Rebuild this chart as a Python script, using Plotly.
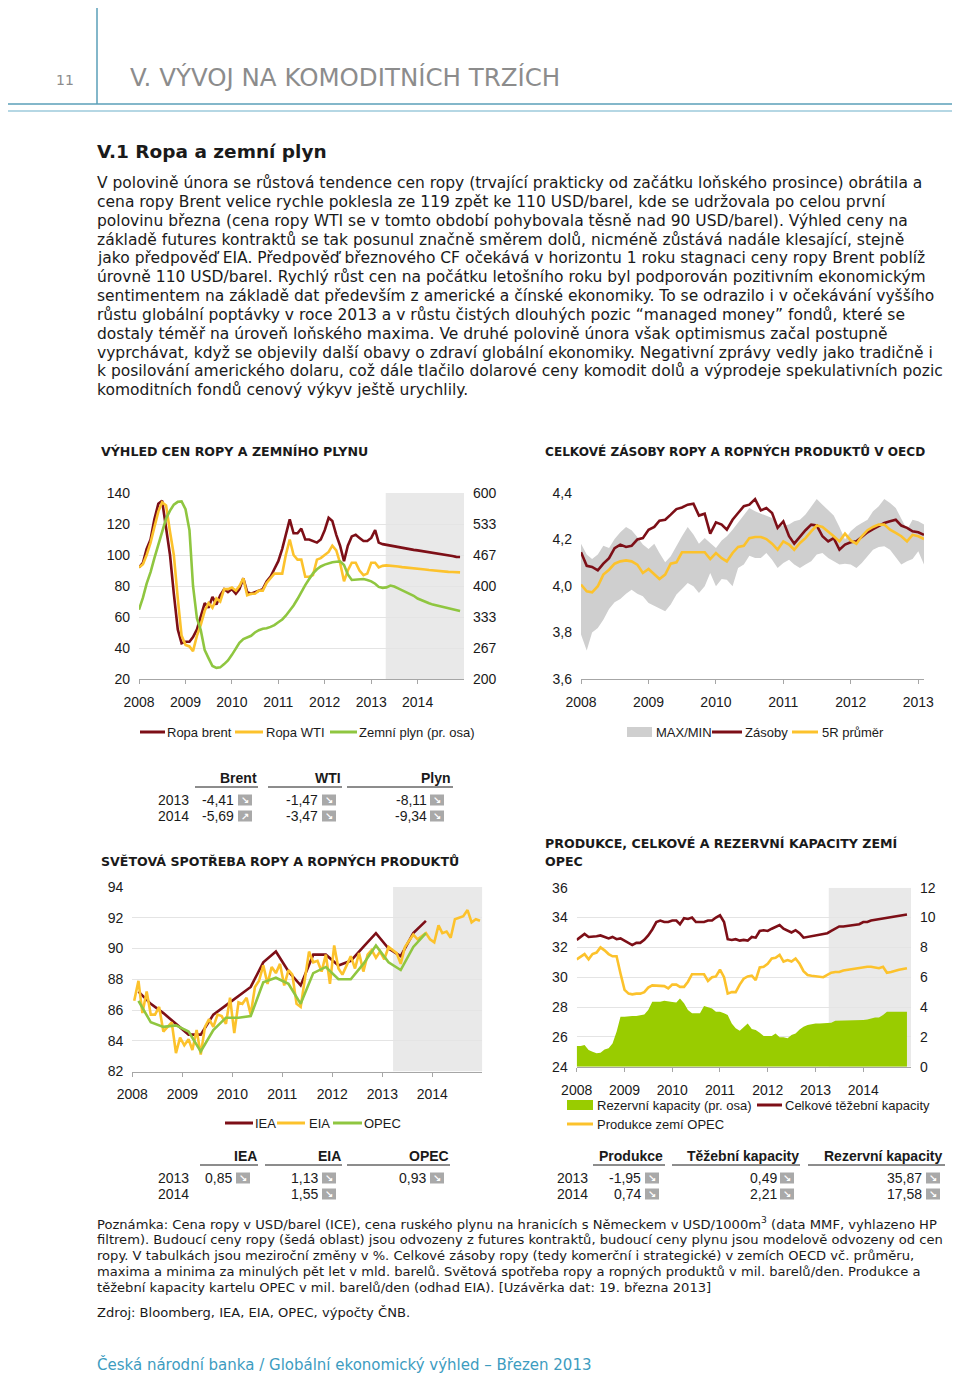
import pandas as pd
import plotly.graph_objects as go

# the page body has an 8 px margin: the figure fills the rest of the 960x1377 window
OFF = 8
W, H = 960 - OFF, 1377 - OFF
SANS = "DejaVu Sans"
ARIAL = "Liberation Sans"
RED = "#7d0f17"
YEL = "#fcc22c"
GRN = "#8fc640"
AREA = "#99cc00"
BAND = "#cfcfcf"
FGRAY = "#e9e9e9"
TEAL = "#5a9fb9"

# ---------------- data ----------------
months = pd.date_range("2008-01-01", "2014-12-01", freq="MS")
m_dates = months.strftime("%Y-%m-%d").tolist()
m_mid = (months + pd.Timedelta(days=14)).strftime("%Y-%m-%d").tolist()
q_dates = pd.date_range("2008-02-15", periods=24, freq=pd.DateOffset(months=3)).strftime("%Y-%m-%d").tolist()
oecd_dates = pd.date_range("2008-01-01", "2013-02-01", freq="MS").strftime("%Y-%m-%d").tolist()

year_labels = ["2008", "2009", "2010", "2011", "2012", "2013", "2014"]
year_labels_oecd = ["2008", "2009", "2010", "2011", "2012", "2013"]

brent = [92, 95, 104, 110, 123, 133, 135, 118, 100, 75, 52, 43,
         44, 44, 47, 52, 60, 69, 66, 73, 68, 74, 78, 76,
         78, 75, 78, 85, 76, 75, 76, 77, 78, 83, 86, 91,
         96, 104, 114, 123, 114, 114, 117, 110, 110, 109, 108, 110,
         116, 124, 122, 113, 106, 96, 106, 112, 113, 111, 109, 109,
         111, 116, 108, 107, 106.5, 106.2, 105.6, 105.2, 104.5, 104.2, 103.8, 103.3,
         103.0, 102.6, 102.2, 101.9, 101.6, 101.3, 100.9, 100.4, 99.9, 99.3, 98.8, 98.7]
wti = [92, 94, 100, 108, 118, 128, 134, 132, 115, 100, 72, 48,
       42, 41, 38, 48, 55, 64, 69, 66, 72, 70, 78, 78,
       79, 77, 80, 85, 74, 75, 75, 77, 77, 82, 85, 88,
       88, 88, 100, 110, 100, 97, 97, 86, 86, 87, 97, 98,
       100, 102, 106, 103, 95, 83, 90, 95, 95, 90, 87, 88,
       95, 95, 92, 93, 93.3, 93.2, 93.0, 92.6, 92.2, 92.0, 91.6, 91.4,
       91.0, 90.8, 90.6, 90.3, 90.0, 89.8, 89.6, 89.3, 89.1, 89.0, 88.9, 88.8]
gas = [349, 375, 405, 430, 460, 490, 520, 545, 562, 575, 581, 582,
       565, 520, 400, 330, 305, 262, 245, 228, 224, 225, 232, 240,
       252, 265, 278, 286, 290, 293, 300, 305, 308, 309, 312, 316,
       322, 328, 336, 346, 358, 372, 388, 402, 415, 427, 436, 442,
       446, 449, 451, 452, 453, 445, 425, 413, 414, 415, 415, 413,
       410, 405, 398, 396, 397, 401, 399, 395, 391, 388, 384, 379,
       373, 369, 366, 363, 360, 358, 356, 353, 351, 349, 347, 346]

stocks = [4.145, 4.087, 4.082, 4.067, 4.096, 4.12, 4.163, 4.178, 4.168, 4.173, 4.2, 4.206,
          4.242, 4.254, 4.281, 4.285, 4.307, 4.331, 4.338, 4.35, 4.354, 4.303, 4.311, 4.225,
          4.274, 4.264, 4.242, 4.285, 4.314, 4.343, 4.35, 4.374, 4.325, 4.335, 4.314, 4.25,
          4.278, 4.214, 4.182, 4.214, 4.24, 4.264, 4.26, 4.214, 4.192, 4.206, 4.156, 4.178,
          4.188, 4.192, 4.211, 4.231, 4.245, 4.26, 4.271, 4.278, 4.285, 4.26, 4.25, 4.235,
          4.231, 4.22]
avg5 = [4.006, 3.977, 3.973, 3.999, 4.049, 4.07, 4.096, 4.106, 4.11, 4.106, 4.092, 4.056,
        4.073, 4.049, 4.03, 4.049, 4.096, 4.102, 4.145, 4.145, 4.145, 4.145, 4.145, 4.116,
        4.142, 4.12, 4.106, 4.142, 4.168, 4.173, 4.206, 4.211, 4.211, 4.202, 4.182, 4.156,
        4.192, 4.178, 4.156, 4.185, 4.206, 4.235, 4.26, 4.254, 4.235, 4.214, 4.192, 4.225,
        4.196, 4.182, 4.214, 4.24, 4.254, 4.264, 4.264, 4.242, 4.228, 4.214, 4.192, 4.22,
        4.214, 4.202]
band_max = [4.182, 4.135, 4.116, 4.135, 4.173, 4.163, 4.202, 4.231, 4.254, 4.24, 4.211, 4.178,
            4.159, 4.182, 4.142, 4.102, 4.128, 4.173, 4.214, 4.254, 4.221, 4.182, 4.206, 4.185,
            4.163, 4.196, 4.214, 4.242, 4.271, 4.303, 4.335, 4.321, 4.311, 4.303, 4.292, 4.257,
            4.26, 4.264, 4.278, 4.285, 4.307, 4.343, 4.374, 4.35, 4.328, 4.303, 4.254, 4.2,
            4.235, 4.257, 4.271, 4.285, 4.321, 4.343, 4.374, 4.357, 4.335, 4.292, 4.242, 4.285,
            4.278, 4.264]
band_min = [3.791, 3.723, 3.8, 3.819, 3.855, 3.901, 3.93, 3.944, 3.967, 3.984, 3.967, 3.956,
            3.927, 3.915, 3.905, 3.891, 3.92, 3.963, 3.987, 4.013, 3.999, 3.97, 3.999, 4.056,
            3.999, 4.03, 4.027, 3.999, 4.077, 4.092, 4.13, 4.12, 4.12, 4.142, 4.113, 4.077,
            4.099, 4.113, 4.092, 4.077, 4.092, 4.106, 4.135, 4.142, 4.12, 4.106, 4.092, 4.096,
            4.092, 4.077, 4.099, 4.128, 4.156, 4.168, 4.171, 4.156, 4.125, 4.092, 4.106, 4.116,
            4.149, 4.092]

iea = [87.2, 86.4, 85.8, 85.1, 84.4, 84.4, 85.7, 86.3, 86.9, 87.5, 89.1, 89.8,
       88.5, 87.6, 89.6, 89.6, 88.9, 89.2, 90.1, 91.0, 90.0, 89.5, 91.0, 91.8]
opec = [86.6, 85.2, 84.9, 85.0, 84.6, 83.3, 84.7, 85.5, 85.5, 85.6, 87.8, 88.1,
        87.7, 86.4, 88.4, 88.8, 88.0, 88.0, 89.0, 90.2, 89.1, 88.6, 90.1, 91.0]
eia = [86.6, 87.9, 85.8, 87.2, 85.7, 85.7, 86.2, 84.6, 84.9, 85.2, 83.2, 84.2,
       83.7, 84.1, 83.4, 84.7, 83.1, 84.9, 85.4, 84.9, 85.7, 85.6, 85.1, 86.8,
       84.5, 86.5, 86.4, 86.8, 85.7, 87.5, 87.9, 88.9, 87.7, 88.8, 88.4, 89.0,
       87.6, 88.6, 88.3, 86.4, 86.2, 87.9, 89.8, 89.1, 89.2, 88.5, 89.6, 87.7,
       90.2, 88.7, 88.3, 88.9, 89.5, 88.7, 89.7, 88.5, 89.6, 89.9, 89.4, 89.8,
       89.3, 90.1, 89.9, 89.7, 89.0, 90.1, 90.5, 90.9, 90.6, 90.8, 91.0, 90.6,
       90.4, 91.5, 91.0, 91.1, 90.7, 91.9, 92.0, 92.1, 92.5, 91.7, 91.9, 91.8]

capacity = [32.5, 32.7, 32.9, 32.7, 32.7, 32.75, 32.8, 32.7, 32.6, 32.7, 32.55, 32.6,
            32.45, 32.3, 32.15, 32.3, 32.3, 32.5, 32.8, 33.2, 33.7, 33.8, 33.7, 33.7,
            33.8, 33.8, 33.55, 33.95, 33.9, 34.0, 33.7, 33.7, 33.7, 33.8, 33.8, 34.0,
            34.15, 33.7, 32.55, 32.5, 32.55, 32.45, 32.5, 32.45, 32.7, 32.65, 33.1, 33.15,
            33.1, 33.25, 33.35, 33.5, 33.25, 33.1, 33.0, 33.15, 32.95, 32.65, 32.7, 32.75,
            32.8, 32.85, 32.9, 32.95, 33.1, 33.25, 33.4, 33.4, 33.45, 33.5, 33.55, 33.55,
            33.7, 33.7, 33.8, 33.85, 33.9, 33.95, 34.0, 34.0, 34.1, 34.1, 34.2, 34.2]
production = [31.2, 31.4, 31.55, 31.2, 31.55, 31.65, 32.0, 31.8, 31.55, 31.4, 31.4, 30.25,
              29.15, 28.9, 28.85, 28.9, 28.9, 29.0, 29.3, 29.45, 29.45, 29.45, 29.4, 29.25,
              29.5, 29.5, 29.35, 29.35, 29.7, 30.2, 30.2, 30.2, 30.2, 29.75, 30.0, 30.05,
              30.5, 30.0, 28.9, 29.0, 29.0, 29.5, 29.9, 30.05, 30.1, 29.8, 30.65, 30.7,
              30.9, 31.25, 31.3, 31.5, 31.05, 31.15, 31.05, 31.25, 30.9, 30.4, 30.15, 30.1,
              30.05, 30.05, 30.0, 30.15, 30.3, 30.35, 30.35, 30.45, 30.5, 30.55, 30.55, 30.6,
              30.65, 30.7, 30.7, 30.65, 30.6, 30.7, 30.3, 30.35, 30.45, 30.5, 30.55, 30.6]
spare = [1.39, 1.39, 1.45, 1.12, 1.0, 0.9, 0.94, 1.16, 1.23, 1.56, 2.35, 3.35,
         3.35, 3.4, 3.4, 3.4, 3.46, 3.5, 3.8, 4.35, 4.35, 4.35, 4.42, 4.4,
         4.33, 4.3, 4.58, 4.25, 3.8, 3.58, 3.58, 3.58, 4.07, 3.98, 3.9, 3.68,
         3.68, 3.58, 3.46, 2.9, 2.57, 2.41, 2.68, 2.9, 2.53, 2.46, 2.28, 2.06,
         2.06, 2.06, 2.23, 1.97, 1.97, 1.9, 2.12, 2.23, 2.5, 2.68, 2.79, 2.86,
         2.9, 2.9, 2.9, 2.9, 2.95, 3.08, 3.08, 3.08, 3.08, 3.08, 3.13, 3.13,
         3.13, 3.17, 3.24, 3.3, 3.3, 3.46, 3.68, 3.68, 3.68, 3.68, 3.68, 3.68]

# tables
t1_cols = ["Brent", "WTI", "Plyn"]
t_years = ["2013", "2014"]
t1_vals = [["-4,41", "-1,47", "-8,11"], ["-5,69", "-3,47", "-9,34"]]
t1_arrows = [["↘", "↘", "↘"], ["↗", "↘", "↘"]]
t3_cols = ["IEA", "EIA", "OPEC"]
t3_vals = [["0,85", "1,13", "0,93"], ["", "1,55", ""]]
t4_cols = ["Produkce", "Těžební kapacity", "Rezervní kapacity"]
t4_vals = [["-1,95", "0,49", "35,87"], ["0,74", "2,21", "17,58"]]

body_lines = [
    "V polovině února se růstová tendence cen ropy (trvající prakticky od začátku loňského prosince) obrátila a",
    "cena ropy Brent velice rychle poklesla ze 119 zpět ke 110 USD/barel, kde se udržovala po celou první",
    "polovinu března (cena ropy WTI se v tomto období pohybovala těsně nad 90 USD/barel). Výhled ceny na",
    "základě futures kontraktů se tak posunul značně směrem dolů, nicméně zůstává nadále klesající, stejně",
    "jako předpověď EIA. Předpověď březnového CF očekává v horizontu 1 roku stagnaci ceny ropy Brent poblíž",
    "úrovně 110 USD/barel. Rychlý růst cen na počátku letošního roku byl podporován pozitivním ekonomickým",
    "sentimentem na základě dat především z americké a čínské ekonomiky. To se odrazilo i v očekávání vyššího",
    "růstu globální poptávky v roce 2013 a v růstu čistých dlouhých pozic “managed money” fondů, které se",
    "dostaly téměř na úroveň loňského maxima. Ve druhé polovině února však optimismus začal postupně",
    "vyprchávat, když se objevily další obavy o zdraví globální ekonomiky. Negativní zprávy vedly jako tradičně i",
    "k posilování amerického dolaru, což dále tlačilo dolarové ceny komodit dolů a výprodeje spekulativních pozic",
    "komoditních fondů cenový výkyv ještě urychlily.",
]
note_lines = [
    "Poznámka: Cena ropy v USD/barel (ICE), cena ruského plynu na hranicích s Německem v USD/1000m<sup>3</sup> (data MMF, vyhlazeno HP",
    "filtrem). Budoucí ceny ropy (šedá oblast) jsou odvozeny z futures kontraktů, budoucí ceny plynu jsou modelově odvozeny od cen",
    "ropy. V tabulkách jsou meziroční změny v %. Celkové zásoby ropy (tedy komerční i strategické) v zemích OECD vč. průměru,",
    "maxima a minima za minulých pět let v mld. barelů. Světová spotřeba ropy a ropných produktů v mil. barelů/den. Produkce a",
    "těžební kapacity kartelu OPEC v mil. barelů/den (odhad EIA). [Uzávěrka dat: 19. března 2013]",
]

# ---------------- helpers (page pixel -> paper) ----------------
ann, shapes = [], []


def X(px):
    return (px - OFF) / W


def Y(py):
    return 1 - (py - OFF) / H


def T(x, y, s, size=13, color="#1a1a1a", family=ARIAL, xanchor="left", bold=False):
    if bold:
        s = "<b>" + s + "</b>"
    ann.append(dict(x=X(x), y=Y(y), xref="paper", yref="paper", text=s, showarrow=False,
                    xanchor=xanchor, yanchor="middle", borderpad=0,
                    font=dict(size=size, color=color, family=family)))


def L(x0, y0, x1, y1, color, width=1):
    shapes.append(dict(type="line", xref="paper", yref="paper", x0=X(x0), y0=Y(y0), x1=X(x1), y1=Y(y1),
                       line=dict(color=color, width=width)))


def R(x0, y0, x1, y1, fill):
    shapes.append(dict(type="rect", xref="paper", yref="paper", x0=X(x0), y0=Y(y0), x1=X(x1), y1=Y(y1),
                       fillcolor=fill, line=dict(width=0)))


def icon(x, y, arrow):
    R(x, y - 5.5, x + 14, y + 5.5, "#a9a9a9")
    ann.append(dict(x=X(x + 7), y=Y(y), xref="paper", yref="paper", text="<b>" + arrow + "</b>", showarrow=False,
                    xanchor="center", yanchor="middle", borderpad=0,
                    font=dict(size=10, color="white", family=SANS)))


# ---------------- figure ----------------
fig = go.Figure()
ln = dict(width=2.6)

# chart 1
fig.add_trace(go.Scatter(x=m_dates, y=brent, mode="lines", line=dict(color=RED, **ln), xaxis="x", yaxis="y"))
fig.add_trace(go.Scatter(x=m_dates, y=wti, mode="lines", line=dict(color=YEL, **ln), xaxis="x", yaxis="y"))
fig.add_trace(go.Scatter(x=m_dates, y=gas, mode="lines", line=dict(color=GRN, **ln), xaxis="x", yaxis="y2"))
# chart 2
fig.add_trace(go.Scatter(x=oecd_dates, y=band_max, mode="lines", line=dict(width=0, color=BAND), xaxis="x2", yaxis="y3"))
fig.add_trace(go.Scatter(x=oecd_dates, y=band_min, mode="lines", line=dict(width=0, color=BAND), fill="tonexty",
                         fillcolor=BAND, xaxis="x2", yaxis="y3"))
fig.add_trace(go.Scatter(x=oecd_dates, y=stocks, mode="lines", line=dict(color=RED, **ln), xaxis="x2", yaxis="y3"))
fig.add_trace(go.Scatter(x=oecd_dates, y=avg5, mode="lines", line=dict(color=YEL, **ln), xaxis="x2", yaxis="y3"))
# chart 3
fig.add_trace(go.Scatter(x=q_dates, y=iea, mode="lines", line=dict(color=RED, **ln), xaxis="x3", yaxis="y4"))
fig.add_trace(go.Scatter(x=m_mid, y=eia, mode="lines", line=dict(color=YEL, **ln), xaxis="x3", yaxis="y4"))
fig.add_trace(go.Scatter(x=q_dates, y=opec, mode="lines", line=dict(color=GRN, **ln), xaxis="x3", yaxis="y4"))
# chart 4
fig.add_trace(go.Scatter(x=m_dates, y=spare, mode="lines", line=dict(width=0, color=AREA), fill="tozeroy",
                         fillcolor=AREA, xaxis="x4", yaxis="y6"))
fig.add_trace(go.Scatter(x=m_dates, y=capacity, mode="lines", line=dict(color=RED, **ln), xaxis="x4", yaxis="y5"))
fig.add_trace(go.Scatter(x=m_dates, y=production, mode="lines", line=dict(color=YEL, **ln), xaxis="x4", yaxis="y5"))

TF = dict(size=14, color="#1a1a1a", family=ARIAL)


def xaxis(d0, d1, rng, labels, anchor):
    return dict(domain=[X(d0), X(d1)], range=rng, type="date", anchor=anchor,
                tickvals=[f"{l}-01-01" for l in labels], ticktext=labels,
                showgrid=False, zeroline=False, showline=True, linecolor="#a6a6a6", linewidth=1,
                ticks="outside", ticklen=4, tickcolor="#a6a6a6", tickfont=TF, ticklabelstandoff=6,
                automargin=False, fixedrange=True)


def yaxis(top, bot, rng, vals, texts, anchor, side="left", grid=True, overlay=None):
    d = dict(domain=[Y(bot), Y(top)], range=rng, tickvals=vals, ticktext=texts, anchor=anchor, side=side,
             showgrid=grid, gridcolor="#e4e4e4", gridwidth=1, zeroline=False, showline=False,
             ticks="", tickfont=TF, ticklabelstandoff=8, automargin=False, fixedrange=True)
    if overlay:
        d["overlaying"] = overlay
        d["showgrid"] = False
    return d


c1_left = [20, 40, 60, 80, 100, 120, 140]
c1_right = [200, 266.67, 333.33, 400, 466.67, 533.33, 600]
c1_right_t = ["200", "267", "333", "400", "467", "533", "600"]
c2_vals = [3.6, 3.8, 4.0, 4.2, 4.4]
c2_text = ["3,6", "3,8", "4,0", "4,2", "4,4"]
c3_vals = [82, 84, 86, 88, 90, 92, 94]
c4_left = [24, 26, 28, 30, 32, 34, 36]
c4_right = [0, 2, 4, 6, 8, 10, 12]

layout = dict(
    width=W, height=H, margin=dict(l=0, r=0, t=0, b=0, pad=0, autoexpand=False), showlegend=False,
    paper_bgcolor="white", plot_bgcolor="rgba(0,0,0,0)",
    xaxis=xaxis(139, 464, ["2008-01-01", "2015-01-01"], year_labels, "y"),
    yaxis=yaxis(493, 679, [20, 140], c1_left, [str(v) for v in c1_left], "x"),
    yaxis2=yaxis(493, 679, [200, 600], c1_right, c1_right_t, "x", side="right", overlay="y"),
    xaxis2=xaxis(581, 924, ["2008-01-01", "2013-02-01"], year_labels_oecd, "y3"),
    yaxis3=yaxis(493, 679, [3.6, 4.4], c2_vals, c2_text, "x2", grid=False),
    xaxis3=xaxis(132.3, 482.3, ["2008-01-01", "2015-01-01"], year_labels, "y4"),
    yaxis4=yaxis(887, 1071.5, [82, 94], c3_vals, [str(v) for v in c3_vals], "x3"),
    xaxis4=xaxis(576.7, 911, ["2008-01-01", "2015-01-01"], year_labels, "y5"),
    yaxis5=yaxis(887.7, 1066.7, [24, 36], c4_left, [str(v) for v in c4_left], "x4"),
    yaxis6=yaxis(887.7, 1066.7, [0, 12], c4_right, [str(v) for v in c4_right], "x4", side="right", overlay="y5"),
)

# forecast shading
for xr, yr, x0, y0, y1 in [("x", "y", "2013-04-25", 20, 140), ("x3", "y4", "2013-03-20", 82, 94),
                            ("x4", "y5", "2013-04-12", 24, 36)]:
    shapes.append(dict(type="rect", xref=xr, yref=yr, x0=x0, x1="2015-01-01", y0=y0, y1=y1,
                       fillcolor=FGRAY, line=dict(width=0), layer="below"))

# ---------------- page header ----------------
L(97, 3, 97, 104, TEAL, 1.5)
L(0, 104, 955, 104, TEAL, 1.5)
L(0, 111, 955, 111, "#9dcadb", 1.5)
T(65, 80, "11", size=14, color="#8c8c8c", family=SANS, xanchor="center")
T(129, 78, "V. VÝVOJ NA KOMODITNÍCH TRZÍCH", size=24.5, color="#8c8c8c", family=SANS)

T(96, 151, "V.1 Ropa a zemní plyn", size=18.5, color="#1a1a1a", family=SANS, bold=True)
for i, s in enumerate(body_lines):
    T(96, 183 + i * 18.85, s, size=15.5, color="#1a1a1a", family=SANS)

# chart titles
TT = 12.6
T(100, 451, "VÝHLED CEN ROPY A ZEMNÍHO PLYNU", size=TT, family=SANS, bold=True)
T(544, 451, "CELKOVÉ ZÁSOBY ROPY A ROPNÝCH PRODUKTŮ V OECD", size=12.1, family=SANS, bold=True)
T(100, 861, "SVĚTOVÁ SPOTŘEBA ROPY A ROPNÝCH PRODUKTŮ", size=TT, family=SANS, bold=True)
T(544, 843, "PRODUKCE, CELKOVÉ A REZERVNÍ KAPACITY ZEMÍ", size=TT, family=SANS, bold=True)
T(544, 861, "OPEC", size=TT, family=SANS, bold=True)

# legends
LG = 13
L(140, 732, 165, 732, RED, 3); T(166, 732, "Ropa brent", LG)
L(235, 732, 263, 732, YEL, 3); T(265, 732, "Ropa WTI", LG)
L(330, 732, 357, 732, GRN, 3); T(358, 732, "Zemní plyn (pr. osa)", LG)

R(627, 727, 652, 737, BAND); T(655, 732, "MAX/MIN", LG)
L(712, 732, 742, 732, RED, 3); T(744, 732, "Zásoby", LG)
L(792, 732, 818, 732, YEL, 3); T(821, 732, "5R průměr", LG)

L(225, 1123, 253, 1123, RED, 3); T(254, 1123, "IEA", LG)
L(277, 1123, 305, 1123, YEL, 3); T(308, 1123, "EIA", LG)
L(333, 1123, 362, 1123, GRN, 3); T(363, 1123, "OPEC", LG)

R(567, 1100, 593, 1110, AREA); T(596, 1105, "Rezervní kapacity (pr. osa)", LG)
L(757, 1105, 782, 1105, RED, 3); T(784, 1105, "Celkové těžební kapacity", LG)
L(567, 1124, 593, 1124, YEL, 3); T(596, 1124, "Produkce zemí OPEC", LG)

# ---------------- tables ----------------
TS = 14


def table(cols, vals, arrows, year_x, head_y, head_right, under, val_right, icon_x, row_y):
    for c, s in enumerate(cols):
        T(head_right[c], head_y, s, TS, xanchor="right", bold=True)
        L(under[c][0], head_y + 9, under[c][1], head_y + 9, "#1a1a1a", 1)
    for r, yr in enumerate(t_years):
        T(year_x, row_y[r], yr, TS)
        for c in range(len(cols)):
            v = vals[r][c]
            if v:
                T(val_right[c], row_y[r], v, TS, xanchor="right")
                icon(icon_x[c], row_y[r], arrows[r][c])


table(t1_cols, t1_vals, t1_arrows, 157, 778, [258, 342, 452], [(195, 258), (268, 342), (347, 453)],
      [235, 319, 428], [238, 322, 430], [800, 816])
down = [["↘"] * 3, ["↘"] * 3]
table(t3_cols, t3_vals, down, 157, 1156, [258, 342, 450], [(200, 258), (265, 342), (347, 450)],
      [233, 319, 427], [236, 322, 430], [1178, 1194])
table(t4_cols, t4_vals, down, 556, 1156, [664, 800, 943], [(593, 665), (672, 800), (808, 945)],
      [642, 778, 923], [645, 780, 926], [1178, 1194])

# ---------------- notes ----------------
for i, s in enumerate(note_lines):
    T(96, 1223 + i * 16, s, size=13.1, color="#1a1a1a", family=SANS)
T(96, 1312, "Zdroj: Bloomberg, IEA, EIA, OPEC, výpočty ČNB.", size=13.1, color="#1a1a1a", family=SANS)
T(96, 1364, "Česká národní banka / Globální ekonomický výhled – Březen 2013", size=15, color="#3d9cbf", family=SANS)

layout["annotations"] = ann
layout["shapes"] = shapes
fig.update_layout(**layout)
fig.write_html("out.html")
